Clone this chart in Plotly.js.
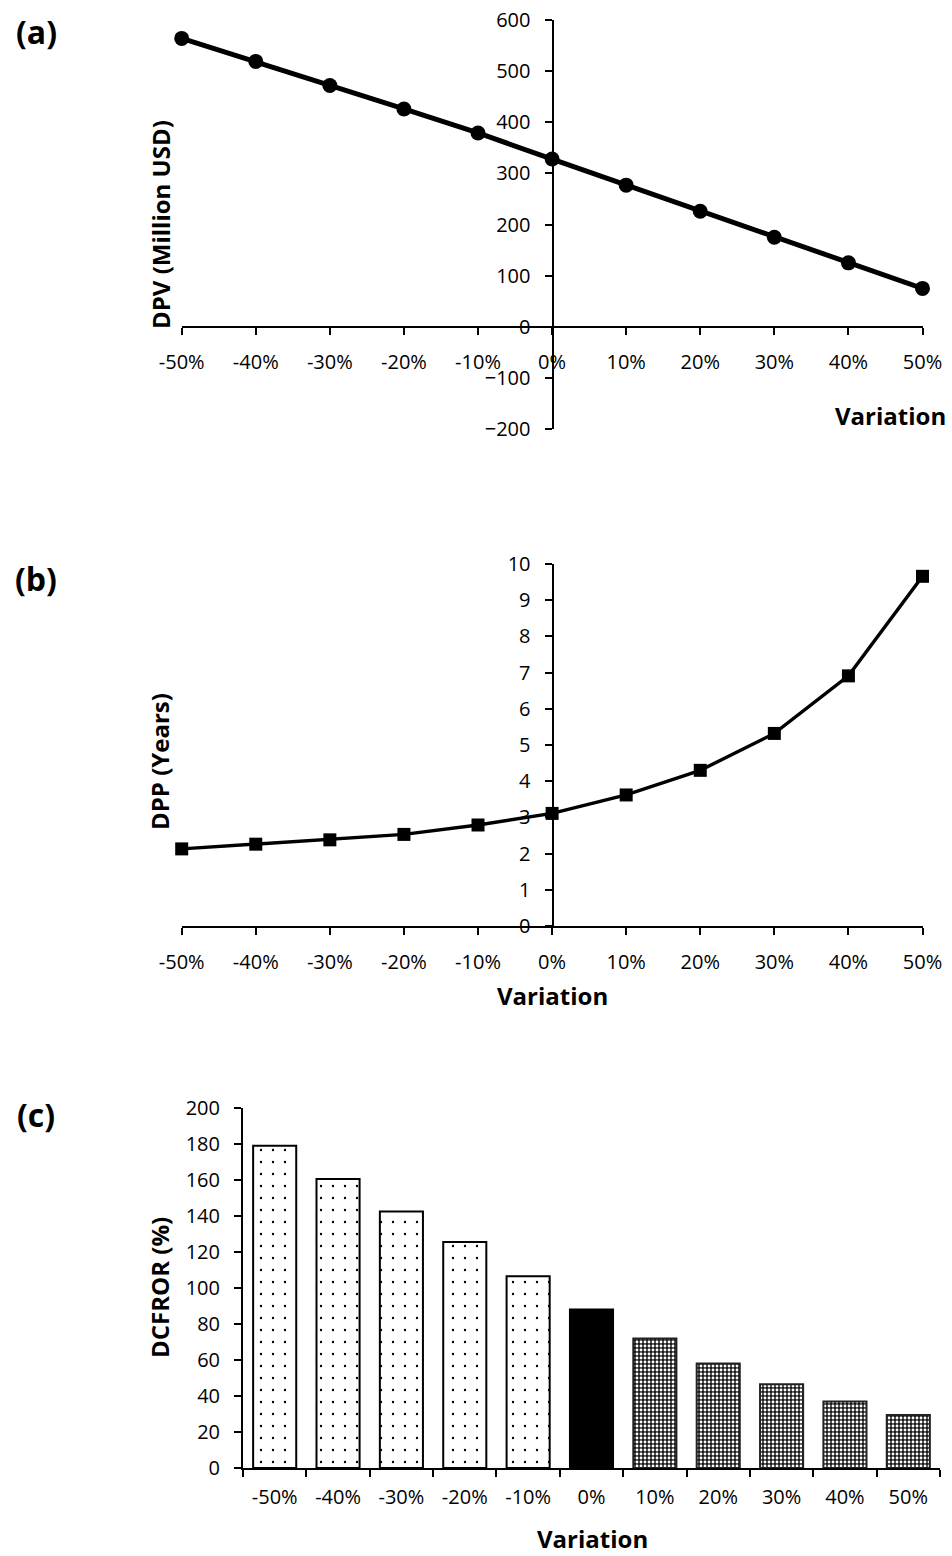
<!DOCTYPE html>
<html>
<head>
<meta charset="utf-8">
<script src="https://cdn.plot.ly/plotly-3.0.1.min.js"></script>
<style>
  html, body { margin: 0; padding: 0; background: #fff; }
  #chart { width: 952px; height: 1556px; }
</style>
</head>
<body>
<div id="chart"></div>
<script>
// Sensitivity of the project indicators to a variation of the input parameter
const variation = [-50, -40, -30, -20, -10, 0, 10, 20, 30, 40, 50];
const variationLabels = ['-50%', '-40%', '-30%', '-20%', '-10%', '0%', '10%', '20%', '30%', '40%', '50%'];

// (a) discounted present value, million USD
const dpv = [564, 519, 472, 426, 379, 328, 277, 226, 175, 125, 75];
// (b) discounted payback period, years
const dpp = [2.13, 2.26, 2.38, 2.53, 2.79, 3.11, 3.62, 4.30, 5.32, 6.91, 9.66];
// (c) discounted cash flow rate of return, %
const dcfror = [179, 160.5, 142.5, 125.5, 106.5, 88, 72, 58, 46.5, 37, 29.5];

const W = 952, H = 1556;
const px = x => x / W;
const py = y => 1 - y / H;

const FONT = 'Open Sans, Noto Sans, sans-serif';
const tickFont = { family: FONT, size: 20, color: '#000' };
const titleFont = { family: FONT, size: 24, color: '#000', weight: 700 };
const panelFont = { family: FONT, size: 32, color: '#000', weight: 700 };

const axisStyle = {
  showline: true, linecolor: '#000', linewidth: 2,
  ticks: 'outside', ticklen: 7, tickwidth: 2, tickcolor: '#000',
  showgrid: false, zeroline: false, tickfont: tickFont,
  ticklabelstandoff: 10, fixedrange: true
};

const lowIdx = [0, 1, 2, 3, 4], baseIdx = [5], highIdx = [6, 7, 8, 9, 10];
const pick = (arr, idx) => idx.map(i => arr[i]);

const traces = [
  {
    type: 'scatter', mode: 'lines+markers', x: variation, y: dpv,
    xaxis: 'x', yaxis: 'y', cliponaxis: false,
    line: { color: '#000', width: 5 },
    marker: { symbol: 'circle', size: 15, color: '#000' }
  },
  {
    type: 'scatter', mode: 'lines+markers', x: variation, y: dpp,
    xaxis: 'x2', yaxis: 'y2', cliponaxis: false,
    line: { color: '#000', width: 3.4 },
    marker: { symbol: 'square', size: 13, color: '#000' }
  },
  {
    type: 'bar', x: pick(variationLabels, lowIdx), y: pick(dcfror, lowIdx),
    xaxis: 'x3', yaxis: 'y3', width: 0.68,
    marker: {
      color: '#fff', line: { color: '#000', width: 2 },
      pattern: { shape: '.', fgcolor: '#000', bgcolor: '#fff', size: 12, solidity: 0.03 }
    }
  },
  {
    type: 'bar', x: pick(variationLabels, baseIdx), y: pick(dcfror, baseIdx),
    xaxis: 'x3', yaxis: 'y3', width: 0.68,
    marker: { color: '#000', line: { color: '#000', width: 2 } }
  },
  {
    type: 'bar', x: pick(variationLabels, highIdx), y: pick(dcfror, highIdx),
    xaxis: 'x3', yaxis: 'y3', width: 0.68,
    marker: {
      color: '#555', line: { color: '#222', width: 2 },
      pattern: { shape: '.', fgcolor: '#fff', bgcolor: '#1a1a1a', size: 4, solidity: 0.4 }
    }
  }
];

const layout = {
  width: W, height: H,
  margin: { l: 0, r: 0, t: 0, b: 0 },
  paper_bgcolor: '#fff', plot_bgcolor: 'rgba(0,0,0,0)',
  showlegend: false, barmode: 'overlay',
  font: { family: FONT, color: '#000' },

  xaxis: Object.assign({}, axisStyle, {
    domain: [px(181.7), px(922.5)], range: [-50, 50],
    tickvals: variation, ticktext: variationLabels,
    anchor: 'free', position: py(326.7)
  }),
  yaxis: Object.assign({}, axisStyle, {
    domain: [py(429), py(20)], range: [-200, 600], dtick: 100,
    anchor: 'free', position: px(552.5)
  }),

  xaxis2: Object.assign({}, axisStyle, {
    domain: [px(181.7), px(922.5)], range: [-50, 50],
    tickvals: variation, ticktext: variationLabels,
    anchor: 'y2'
  }),
  yaxis2: Object.assign({}, axisStyle, {
    domain: [py(926), py(564)], range: [0, 10], dtick: 1,
    anchor: 'free', position: px(552.5)
  }),

  xaxis3: Object.assign({}, axisStyle, {
    domain: [px(243), px(940)], type: 'category',
    categoryorder: 'array', categoryarray: variationLabels,
    range: [-0.5, 10.5], tickson: 'boundaries', anchor: 'y3'
  }),
  yaxis3: Object.assign({}, axisStyle, {
    domain: [py(1468), py(1108)], range: [0, 200], dtick: 20,
    anchor: 'x3'
  }),

  annotations: [
    { text: '(a)', x: px(36), y: py(31), font: panelFont },
    { text: '(b)', x: px(36), y: py(578), font: panelFont },
    { text: '(c)', x: px(36), y: py(1114), font: panelFont },

    { text: 'DPV (Million USD)', x: px(161), y: py(225), textangle: -90, font: titleFont },
    { text: 'Variation', x: px(947), y: py(416), xanchor: 'right', font: titleFont },

    { text: 'DPP (Years)', x: px(159), y: py(762), textangle: -90, font: titleFont },
    { text: 'Variation', x: px(552), y: py(995), font: titleFont },

    { text: 'DCFROR (%)', x: px(159), y: py(1288), textangle: -90, font: titleFont },
    { text: 'Variation', x: px(592), y: py(1538), font: titleFont }
  ].map(a => Object.assign({
    xref: 'paper', yref: 'paper', showarrow: false,
    xanchor: 'center', yanchor: 'middle', borderpad: 0
  }, a))
};

Plotly.newPlot('chart', traces, layout, { displayModeBar: false, staticPlot: true });
</script>
</body>
</html>
